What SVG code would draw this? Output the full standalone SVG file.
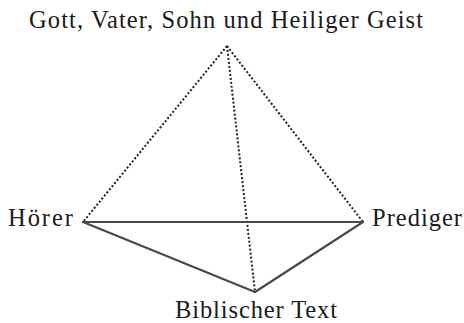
<svg xmlns="http://www.w3.org/2000/svg" width="464" height="323" viewBox="0 0 464 323">
<style>
.t{font-family:"Liberation Serif","DejaVu Serif",serif;font-size:24.5px;fill:#1a1a1a}
.s{stroke:#4a4a4a;stroke-width:2.2;fill:none;stroke-linecap:round}
.d{stroke:#222;stroke-width:2;fill:none;stroke-dasharray:2 2}
</style>
<rect width="464" height="323" fill="#fff"/>
<g id="connectors">
<line class="d" x1="227" y1="46" x2="83" y2="222"/>
<line class="d" x1="227" y1="46" x2="363" y2="222"/>
<line class="d" x1="227" y1="46" x2="255" y2="292"/>
<line class="s" x1="83" y1="222" x2="363" y2="222"/>
<line class="s" x1="83" y1="222" x2="255" y2="292"/>
<line class="s" x1="363" y1="222" x2="255" y2="292"/>
</g>
<g id="gott"><text class="t" x="29" y="28" textLength="394">Gott, Vater, Sohn und Heiliger Geist</text></g>
<g id="hoerer"><text class="t" x="8" y="226" textLength="65">Hörer</text></g>
<g id="prediger"><text class="t" x="372" y="226" textLength="90">Prediger</text></g>
<g id="text"><text class="t" x="175" y="318" textLength="162">Biblischer Text</text></g>
</svg>
